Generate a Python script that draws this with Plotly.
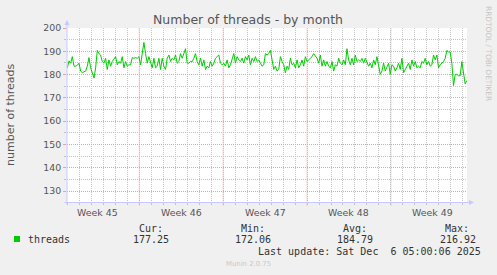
import plotly.graph_objects as go
import pandas as pd

W, H = 497, 275
L, R, T, B = 67, 30, 28, 73
PW = W - L - R
PH = H - T - B


def px(x):
    return (x - L) / PW


def py(y):
    return (H - B - y) / PH


# ---- data ----
seg1 = [182.9, 185.9, 184.9, 187.7, 183.6, 183.6, 184.0, 184.9, 181.5, 180.8,
        181.2, 181.5, 183.6, 187.3, 182.9, 180.1, 178.5, 182.9, 190.4, 189.0,
        188.4, 185.6, 184.9, 187.0, 182.2, 186.3, 183.6, 185.6, 187.0, 187.7,
        184.2, 185.6, 184.9, 187.7, 182.9, 185.6, 183.6, 184.2, 184.2, 187.3,
        187.0, 187.3, 187.0, 187.7, 184.2, 189.0, 193.8, 189.0, 184.9, 187.7,
        184.9, 182.9, 187.0, 182.9, 183.6, 187.0, 182.2, 187.0, 183.6, 182.2,
        187.0]
seg2 = [188.4, 185.6, 187.0, 186.3, 188.4, 184.9, 185.6, 189.0, 187.0, 189.0,
        191.1, 184.9, 184.9, 185.6, 185.6, 187.0, 189.0, 185.6, 184.2, 187.0,
        183.6, 186.3, 182.2, 183.6, 182.9, 185.6, 183.6, 184.9, 187.0, 187.7,
        188.4, 184.9, 184.2, 184.9, 183.6, 186.3, 182.9, 184.2, 187.0, 189.0,
        184.9, 187.7, 186.3, 185.6, 187.0, 184.9, 187.7, 186.3, 188.4, 184.2,
        187.0, 185.6, 187.7, 185.6, 186.3, 184.9, 183.6, 184.2, 189.0, 188.4,
        189.0]
seg3 = [190.4, 185.6, 182.2, 183.6, 181.5, 182.2, 187.7, 185.6, 184.2, 180.8,
        183.6, 182.2, 187.0, 184.2, 184.9, 182.9, 186.3, 182.9, 184.2, 186.3,
        183.6, 187.7, 185.6, 186.3, 187.0, 187.7, 189.0, 187.7, 187.0, 184.9,
        188.4, 183.6, 186.3, 183.6, 185.6, 183.6, 182.9, 185.6, 181.5, 184.2,
        183.6, 187.0, 184.9, 184.2, 186.3, 184.2, 191.1, 186.3, 184.2, 187.0,
        184.2, 188.4, 185.6, 186.3, 185.6, 187.0, 184.9, 187.0, 185.6, 183.6]
seg4 = [184.9, 182.9, 186.3, 184.2, 187.7, 184.2, 180.1, 181.5, 184.9, 181.5,
        182.9, 184.9, 180.1, 184.2, 183.6, 181.5, 182.9, 184.9, 182.2, 187.0,
        180.8, 182.2, 183.6, 184.9, 182.2, 186.3, 183.6, 185.6, 182.9, 183.6,
        182.9, 185.6, 184.9, 187.0, 184.2, 185.6, 183.6, 184.2, 188.4, 186.3,
        188.4, 182.9, 184.2, 184.9, 185.6, 187.0, 190.4, 189.7, 189.7, 184.9,
        175.3, 180.1, 180.1, 179.5, 179.5, 185.6, 179.5, 176.0, 177.4]
threads = seg1 + seg2 + seg3 + seg4
times = pd.date_range("2025-11-03 00:00", periods=len(threads), freq="200min")

week_labels = ["Week 45", "Week 46", "Week 47", "Week 48", "Week 49"]
week_centers = ["2025-11-05 12:00", "2025-11-12 12:00", "2025-11-19 12:00",
                "2025-11-26 12:00", "2025-12-03 12:00"]
week_bounds = ["2025-11-09", "2025-11-16", "2025-11-23", "2025-11-30"]
y_ticks = [130, 140, 150, 160, 170, 180, 190, 200]
stat_names = ["Cur:", "Min:", "Avg:", "Max:"]
stat_values = ["177.25", "172.06", "184.79", "216.92"]
series_name = "threads"
title = "Number of threads - by month"
y_title = "number of threads"
last_update = "Last update: Sat Dec  6 05:00:06 2025"
credit = "RRDTOOL / TOBI OETIKER"
version = "Munin 2.0.75"

# ---- styles ----
GREEN = "#00cc00"
MAJOR = "#eda0a0"
MINOR = "#c4c4c4"
AXIS = "#c6c8ff"
TXT = "#555555"
MONO = "DejaVu Sans Mono"
SANS = "DejaVu Sans"

fig = go.Figure()
fig.add_trace(go.Scatter(x=times, y=threads, mode="lines",
                         line=dict(color=GREEN, width=1), hoverinfo="skip",
                         showlegend=False))

fig.update_layout(
    width=W, height=H,
    margin=dict(l=L, r=R, t=T, b=B, pad=0),
    paper_bgcolor="#f0f0f0", plot_bgcolor="#ffffff",
    showlegend=False,
    xaxis=dict(
        type="date", range=["2025-11-02 23:20", "2025-12-06 08:20"],
        tick0="2025-11-09", dtick=86400000,
        showgrid=True, gridcolor=MINOR, griddash="1px,1px", gridwidth=1,
        showticklabels=False, ticks="outside", ticklen=2, tickcolor=MINOR,
        showline=False, zeroline=False, fixedrange=True,
    ),
    yaxis=dict(
        range=[125.3, 200], tickvals=y_ticks,
        showgrid=True, gridcolor=MAJOR, griddash="1px,1px", gridwidth=1,
        ticks="outside", ticklen=3, tickcolor=MAJOR,
        tickfont=dict(family=SANS, size=9.4, color=TXT),
        showline=False, zeroline=False, fixedrange=True,
        minor=dict(dtick=5, tick0=0, showgrid=True, gridcolor=MINOR,
                   griddash="1px,1px", gridwidth=1,
                   ticks="outside", ticklen=2, tickcolor=MINOR),
    ),
)

# weekly major grid lines (red dotted), drawn between grid and data
for wb in week_bounds:
    fig.add_shape(type="line", xref="x", yref="paper", x0=wb, x1=wb,
                  y0=-3.5 / PH, y1=1, layer="between",
                  line=dict(color=MAJOR, width=1, dash="1px,1px"))

ann = []
ann.append(dict(text=title, x=px(247.5), y=py(19), xref="paper", yref="paper",
                showarrow=False, xanchor="center", yanchor="middle",
                font=dict(family=SANS, size=12.5, color=TXT)))
ann.append(dict(text=y_title, x=px(11), y=py(114), xref="paper", yref="paper",
                showarrow=False, textangle=-90, xanchor="center", yanchor="middle",
                font=dict(family=SANS, size=11, color=TXT)))
for lab, c in zip(week_labels, week_centers):
    ann.append(dict(text=lab, x=c, y=py(212), xref="x", yref="paper",
                    showarrow=False, xanchor="center", yanchor="middle",
                    font=dict(family=SANS, size=9.4, color=TXT)))
ann.append(dict(text=credit, x=px(488.5), y=py(53.5), xref="paper", yref="paper",
                showarrow=False, textangle=90, xanchor="center", yanchor="middle",
                font=dict(family=SANS, size=7.4, color="#c4c4c4")))
ann.append(dict(text="", x=px(67), y=py(20), xref="paper", yref="paper",
                showarrow=True, ax=0, ay=186, arrowhead=2, arrowsize=1,
                arrowwidth=1, arrowcolor=AXIS, standoff=0))
ann.append(dict(text="", x=px(474), y=py(202.5), xref="paper", yref="paper",
                showarrow=True, ax=-411, ay=0, arrowhead=2, arrowsize=1,
                arrowwidth=1, arrowcolor=AXIS, standoff=0))
ann.append(dict(text=series_name, x=px(26), y=py(239), xref="paper", yref="paper",
                showarrow=False, xanchor="left", yanchor="middle",
                font=dict(family=MONO, size=10, color="#333333")))
head_right = [165, 267, 369, 471]
val_right = [171, 273, 375, 477.5]
for nm, hr in zip(stat_names, head_right):
    ann.append(dict(text=nm, x=px(hr), y=py(228), xref="paper", yref="paper",
                    showarrow=False, xanchor="right", yanchor="middle",
                    font=dict(family=MONO, size=10, color="#333333")))
for v, vr in zip(stat_values, val_right):
    ann.append(dict(text=v, x=px(vr), y=py(239.5), xref="paper", yref="paper",
                    showarrow=False, xanchor="right", yanchor="middle",
                    font=dict(family=MONO, size=10, color="#333333")))
ann.append(dict(text=last_update.replace(" ", "&nbsp;"), x=px(483), y=py(251.5),
                xref="paper", yref="paper",
                showarrow=False, xanchor="right", yanchor="middle",
                font=dict(family=MONO, size=10, color="#333333")))
ann.append(dict(text=version, x=px(248), y=py(264), xref="paper", yref="paper",
                showarrow=False, xanchor="center", yanchor="middle",
                font=dict(family=SANS, size=6.9, color="#c8c8c8")))
fig.update_layout(annotations=ann)

fig.add_shape(type="rect", xref="paper", yref="paper",
              x0=px(14), x1=px(20), y0=py(242), y1=py(236),
              fillcolor=GREEN, line=dict(width=0))

fig.write_html("out.html")
